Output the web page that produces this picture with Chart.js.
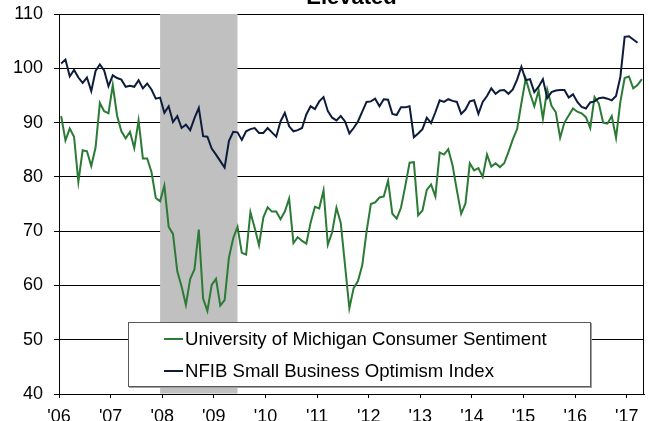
<!DOCTYPE html>
<html><head><meta charset="utf-8">
<script src="https://cdn.jsdelivr.net/npm/chart.js@4.4.1/dist/chart.umd.min.js"></script>
<style>
html,body{margin:0;padding:0;background:#fff;overflow:hidden;width:649px;height:421px}
#wrap{position:absolute;left:0;top:0;width:649px;height:425px}
#title{position:absolute;left:59px;width:585px;top:-14px;text-align:center;font:bold 22px "Liberation Sans",Arial,sans-serif;line-height:22px;color:#000;white-space:nowrap}
#legend{position:absolute;left:128px;top:322px;width:461px;height:63px;background:#fff;border:1px solid #5a5a5a;box-shadow:1px 1px 0 #a0a0a0;font:18.6px "Liberation Sans",Arial,sans-serif;color:#000}
.sw{position:absolute;left:35px;width:19px;height:2px}
.tx{position:absolute;left:56px;height:22px;line-height:22px;white-space:nowrap}
</style></head>
<body>
<div id="wrap"><canvas id="c"></canvas></div>
<div id="title">Elevated</div>
<div id="legend"></div>
<script>
// ---- data (monthly, starting Jan 2006) ----
const startYear = 2006;
const seriesNames = ["University of Michigan Consumer Sentiment", "NFIB Small Business Optimism Index"];
const seriesColors = ["#2b7a35", "#0d1c3b"];
const umich = [
  91.2, 86.7, 88.9, 87.4, 79.1, 84.9, 84.7, 82.0, 85.4, 93.6, 92.1, 91.7,
  96.9, 91.3, 88.4, 87.1, 88.3, 85.3, 90.4, 83.4, 83.4, 80.9, 76.1, 75.5,
  78.4, 70.8, 69.5, 62.6, 59.8, 56.4, 61.2, 63.0, 70.3, 57.6, 55.3, 60.1,
  61.2, 56.3, 57.3, 65.1, 68.7, 70.8, 66.0, 65.7, 73.5, 70.6, 67.4, 72.5,
  74.4, 73.6, 73.6, 72.2, 73.6, 76.0, 67.8, 68.9, 68.2, 67.7, 71.6, 74.5,
  74.2, 77.5, 67.5, 69.8, 74.3, 71.5, 63.7, 55.8, 59.5, 60.8, 63.7, 69.9,
  75.0, 75.3, 76.2, 76.4, 79.3, 73.2, 72.3, 74.3, 78.3, 82.6, 82.7, 72.9,
  73.8, 77.6, 78.6, 76.4, 84.5, 84.1, 85.1, 82.1, 77.5, 73.2, 75.1, 82.5,
  81.2, 81.6, 80.0, 84.1, 81.9, 82.5, 81.8, 82.5, 84.6, 86.9, 88.8, 93.6,
  98.1, 95.4, 93.0, 95.9, 90.7, 96.1, 93.1, 91.9, 87.2, 90.0, 91.3, 92.6,
  92.0, 91.7, 91.0, 89.0, 94.7, 93.5, 90.0, 89.8, 91.2, 87.2, 93.8, 98.2,
  98.5, 96.3, 96.9, 98.0
];
const nfib = [
  100.9, 101.6, 98.5, 99.7, 98.3, 97.3, 98.3, 95.8, 99.5, 100.7, 99.6, 96.7,
  98.7, 98.2, 97.9, 96.6, 96.8, 96.6, 97.8, 96.3, 97.2, 96.1, 94.4, 94.6,
  91.8, 93.0, 90.1, 91.2, 89.0, 89.6, 88.6, 90.8, 92.7, 87.5, 87.4, 85.2,
  84.1, 82.9, 81.7, 86.6, 88.3, 88.2, 86.8, 88.4, 88.8, 89.0, 88.1, 88.1,
  89.0, 88.2, 87.4, 90.2, 91.8, 89.3, 88.4, 88.6, 89.0, 91.5, 93.0, 92.5,
  93.9, 94.7, 92.1, 90.9, 90.4, 91.2, 90.2, 88.0, 89.0, 90.2, 92.0, 93.8,
  93.9, 94.4, 93.0, 94.3, 94.2, 91.6, 91.4, 92.8, 92.8, 93.0, 87.3, 88.0,
  88.8, 90.9, 89.9, 91.9, 94.1, 93.8, 94.3, 94.0, 93.8, 91.6, 92.4, 93.9,
  94.1, 91.6, 93.8, 94.9, 96.3, 95.3, 95.9, 96.0, 95.3, 96.1, 97.9, 100.3,
  97.8, 98.0, 95.6, 96.6, 98.0, 94.5, 95.6, 95.9, 96.0, 96.0, 94.6, 95.2,
  93.8, 92.9, 92.6, 93.7, 93.9, 94.5, 94.6, 94.4, 94.1, 94.9, 98.4, 105.8,
  105.9, 105.3, 104.7
];
const tickYears = [2006, 2007, 2008, 2009, 2010, 2011, 2012, 2013, 2014, 2015, 2016, 2017];
const tickLabels = ["'06", "'07", "'08", "'09", "'10", "'11", "'12", "'13", "'14", "'15", "'16", "'17"];
const recession = { start: [2007, 12], end: [2009, 6] }; // [year, month]
const axisMax = 2017 + 4 / 12;

// month -> position on the year axis (middle of the month)
const monthPos = (y, m) => y + (m - 0.5) / 12;
const toPoints = arr => arr.map((v, i) => ({ x: monthPos(startYear + Math.floor(i / 12), (i % 12) + 1), y: v }));

// ---- legend (HTML text) ----
const lg = document.getElementById('legend');
const rowTops = [5, 37];
seriesNames.forEach((n, k) => {
  const s = document.createElement('div'); s.className = 'sw';
  s.style.top = (rowTops[k] + 10) + 'px'; s.style.background = seriesColors[k];
  const t = document.createElement('div'); t.className = 'tx';
  t.style.top = rowTops[k] + 'px'; t.textContent = n;
  lg.appendChild(s); lg.appendChild(t);
});

const shadePlugin = {
  id: 'shade',
  beforeDatasetsDraw(chart) {
    const { ctx, chartArea, scales } = chart;
    const x0 = scales.x.getPixelForValue(monthPos(recession.start[0], recession.start[1]));
    const x1 = scales.x.getPixelForValue(monthPos(recession.end[0], recession.end[1]));
    ctx.save();
    ctx.fillStyle = '#c0c0c0';
    ctx.fillRect(x0, chartArea.top, x1 - x0, chartArea.bottom - chartArea.top - 0.5);
    ctx.restore();
  },
  afterDraw(chart) {
    const { ctx, chartArea } = chart;
    ctx.save();
    ctx.strokeStyle = '#000'; ctx.lineWidth = 1;
    const xr = Math.round(chartArea.right) - 0.5;
    ctx.beginPath(); ctx.moveTo(xr, chartArea.top); ctx.lineTo(xr, chartArea.bottom); ctx.stroke();
    ctx.restore();
  }
};

Chart.defaults.font.family = '"Liberation Sans", Arial, sans-serif';
Chart.defaults.color = '#000';

new Chart(document.getElementById('c'), {
  type: 'line',
  data: {
    datasets: [
      { label: seriesNames[0], data: toPoints(umich), borderColor: seriesColors[0], borderWidth: 2, pointRadius: 0, tension: 0, order: 2 },
      { label: seriesNames[1], data: toPoints(nfib), borderColor: seriesColors[1], borderWidth: 2, pointRadius: 0, tension: 0, order: 1 }
    ]
  },
  options: {
    responsive: true, maintainAspectRatio: false, animation: false,
    layout: { padding: { top: 14, right: 5, left: 0, bottom: 0 } },
    plugins: { legend: { display: false }, title: { display: false }, tooltip: { enabled: false } },
    scales: {
      x: {
        type: 'linear', min: startYear, max: axisMax,
        afterBuildTicks: s => { s.ticks = tickYears.map(v => ({ value: v })); },
        afterFit: s => { s.height = 31; s.paddingLeft = 0; s.paddingRight = 0; },
        grid: { drawOnChartArea: false, drawTicks: true, tickLength: 4, color: '#000' },
        border: { color: '#000', width: 1 },
        ticks: { font: { size: 18 }, padding: 8, maxRotation: 0, autoSkip: false,
          callback: v => tickLabels[tickYears.indexOf(v)] }
      },
      y: {
        min: 40, max: 110,
        afterFit: s => { s.width = 59; s.paddingTop = 0; s.paddingBottom = 0; },
        grid: { color: '#000', lineWidth: 1, drawTicks: true, tickLength: 5 },
        border: { color: '#000', width: 1 },
        ticks: { stepSize: 10, font: { size: 18 }, padding: 11 }
      }
    }
  },
  plugins: [shadePlugin]
});
</script>
</body></html>
